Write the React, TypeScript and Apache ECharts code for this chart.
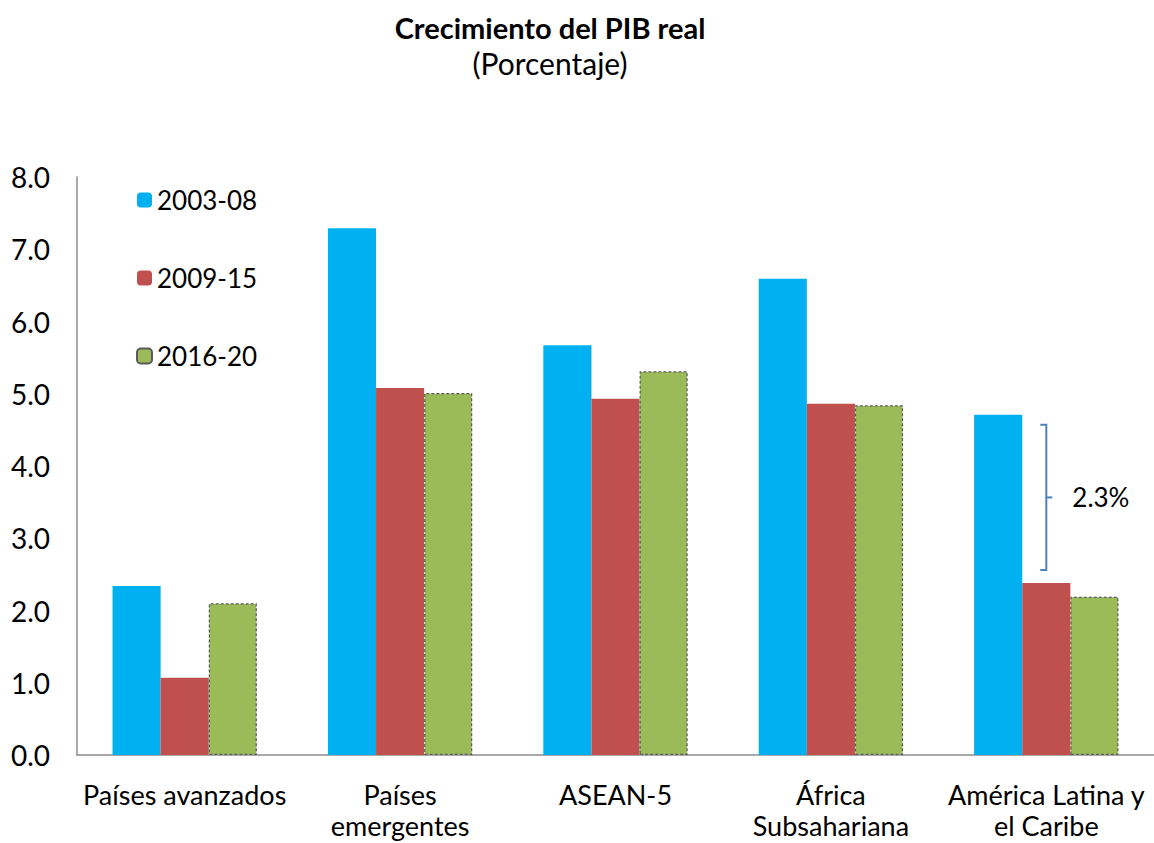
import React, { useEffect, useRef } from "react";
import * as echarts from "echarts";

const categories = [
  "Países avanzados",
  "Países\nemergentes",
  "ASEAN-5",
  "África\nSubsahariana",
  "América Latina y\nel Caribe",
];
const s2003 = [2.34, 7.29, 5.67, 6.59, 4.71];
const s2009 = [1.07, 5.08, 4.93, 4.86, 2.38];
const s2016 = [2.1, 5.01, 5.31, 4.84, 2.19];
const seriesNames = ["2003-08", "2009-15", "2016-20"];
const yTicks = [0, 1, 2, 3, 4, 5, 6, 7, 8];
const bracketTop = 4.57;
const bracketBottom = 2.56;
const bracketLabel = "2.3%";
const bracketCategory = 4;

const FONT = "Lato, 'Open Sans', sans-serif";

export default function App() {
  const ref = useRef<HTMLDivElement>(null);
  useEffect(() => {
    if (!ref.current) return;
    const chart = echarts.init(ref.current, undefined, { renderer: "svg" });
    const option: any = {
      animation: false,
      backgroundColor: "#ffffff",
      textStyle: { fontFamily: FONT },
      title: {
        text: "Crecimiento del PIB real",
        subtext: "(Porcentaje)",
        left: 545,
        textAlign: "center",
        top: 5,
        itemGap: 2,
        textStyle: { fontFamily: FONT, fontSize: 29, fontWeight: "bold", color: "#000", lineHeight: 34 },
        subtextStyle: { fontFamily: FONT, fontSize: 30, color: "#000", lineHeight: 34 },
      },
      legend: {
        orient: "vertical",
        left: 131,
        top: 181,
        itemWidth: 15,
        itemHeight: 15,
        itemGap: 50,
        data: seriesNames,
        textStyle: { fontFamily: FONT, fontSize: 26, color: "#000", lineHeight: 28 },
      },
      grid: { left: 77, top: 177, width: 1082.5, height: 578, containLabel: false },
      xAxis: {
        type: "category",
        data: categories,
        axisLine: { lineStyle: { color: "#8c8c8c", width: 1.5 } },
        axisTick: { show: false },
        axisLabel: {
          fontFamily: FONT,
          fontSize: 27,
          color: "#000",
          margin: 24,
          lineHeight: 31,
          interval: 0,
        },
      },
      yAxis: {
        type: "value",
        min: yTicks[0],
        max: yTicks[yTicks.length - 1],
        interval: 1,
        axisLine: { show: true, lineStyle: { color: "#8c8c8c", width: 1.5 } },
        axisTick: { show: false },
        splitLine: { show: false },
        axisLabel: {
          fontFamily: FONT,
          fontSize: 28,
          color: "#000",
          margin: 27,
          formatter: (v: number) => v.toFixed(1),
        },
      },
      series: [
        {
          name: seriesNames[0],
          type: "bar",
          data: s2003,
          barGap: "0%",
          barCategoryGap: "33%",
          itemStyle: { color: "#00B0F0" },
        },
        {
          name: seriesNames[1],
          type: "bar",
          data: s2009,
          barGap: "0%",
          barCategoryGap: "33%",
          itemStyle: { color: "#C0504D" },
        },
        {
          name: seriesNames[2],
          type: "bar",
          data: s2016,
          barGap: "0%",
          barCategoryGap: "33%",
          itemStyle: {
            color: "#9BBB59",
            borderColor: "#5a5a5a",
            borderWidth: 1.2,
            borderType: [3, 2],
          },
        },
      ],
    };
    chart.setOption(option);

    const pTop = chart.convertToPixel({ xAxisIndex: 0, yAxisIndex: 0 }, [bracketCategory, bracketTop]);
    const pBot = chart.convertToPixel({ xAxisIndex: 0, yAxisIndex: 0 }, [bracketCategory, bracketBottom]);
    const x = pTop[0];
    const yT = pTop[1];
    const yB = pBot[1];
    const yM = (yT + yB) / 2;
    const bc = "#4F81BD";
    chart.setOption({
      graphic: [
        {
          type: "polyline",
          shape: { points: [[x - 6, yT], [x, yT], [x, yB], [x - 6, yB]] },
          style: { stroke: bc, lineWidth: 2, fill: null },
        },
        {
          type: "line",
          shape: { x1: x, y1: yM, x2: x + 6, y2: yM },
          style: { stroke: bc, lineWidth: 2 },
        },
        {
          type: "text",
          x: x + 26,
          y: yM,
          style: {
            text: bracketLabel,
            fontFamily: FONT,
            fontSize: 26,
            fill: "#000",
            verticalAlign: "middle",
            align: "left",
          },
        },
      ],
    });

    return () => chart.dispose();
  }, []);
  return (
    <div
      ref={ref}
      style={{ position: "fixed", left: 0, top: 0, width: 1154, height: 843 }}
    />
  );
}
